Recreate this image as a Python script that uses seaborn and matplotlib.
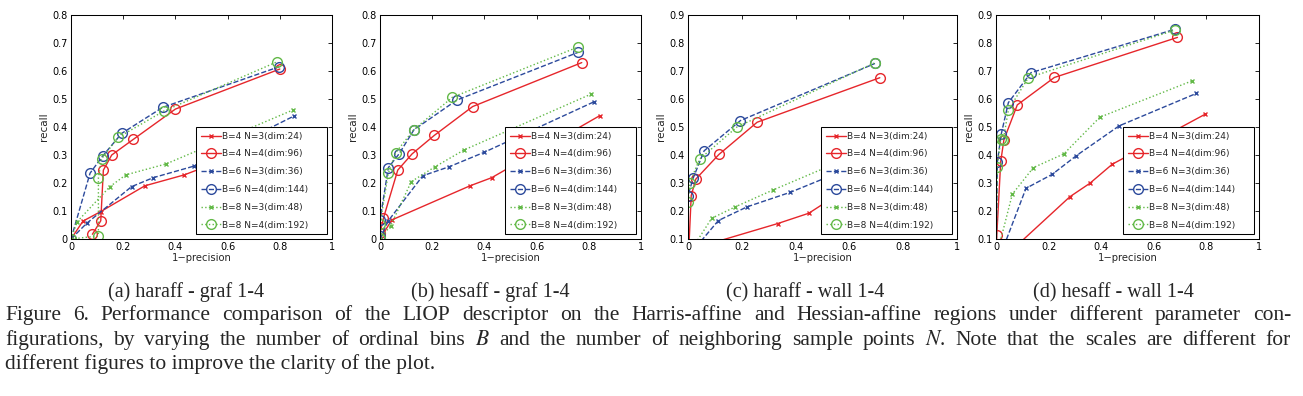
import matplotlib
matplotlib.use("Agg")
import matplotlib.pyplot as plt
import pandas as pd
import seaborn as sns

# Data (1-precision, recall) for each descriptor setting
LABELS = ["B=4 N=3(dim:24)", "B=4 N=4(dim:96)", "B=6 N=3(dim:36)",
          "B=6 N=4(dim:144)", "B=8 N=3(dim:48)", "B=8 N=4(dim:192)"]

# (a) haraff - graf 1-4
a_b4n3_x = [0, 0.046, 0.114, 0.283, 0.434, 0.83]
a_b4n3_y = [0, 0.064, 0.098, 0.19, 0.229, 0.37]
a_b4n4_x = [0.082, 0.114, 0.124, 0.156, 0.239, 0.40, 0.80]
a_b4n4_y = [0.017, 0.065, 0.246, 0.30, 0.356, 0.464, 0.607]
a_b6n3_x = [0, 0.06, 0.232, 0.315, 0.47, 0.856]
a_b6n3_y = [0, 0.056, 0.187, 0.219, 0.26, 0.44]
a_b6n4_x = [0, 0.073, 0.121, 0.194, 0.351, 0.797]
a_b6n4_y = [0, 0.235, 0.296, 0.377, 0.47, 0.615]
a_b8n3_x = [0, 0.024, 0.149, 0.21, 0.364, 0.851]
a_b8n3_y = [0, 0.062, 0.187, 0.229, 0.268, 0.461]
a_b8n4_x = [0, 0.105, 0.105, 0.117, 0.181, 0.356, 0.79]
a_b8n4_y = [0, 0.011, 0.219, 0.286, 0.363, 0.457, 0.633]

# (b) hesaff - graf 1-4
b_b4n3_x = [0, 0.045, 0.345, 0.428, 0.841]
b_b4n3_y = [0, 0.068, 0.19, 0.219, 0.44]
b_b4n4_x = [0, 0.013, 0.068, 0.123, 0.208, 0.355, 0.773]
b_b4n4_y = [0.02, 0.074, 0.246, 0.304, 0.37, 0.473, 0.63]
b_b6n3_x = [0, 0.031, 0.164, 0.265, 0.40, 0.82]
b_b6n3_y = [0, 0.064, 0.226, 0.258, 0.31, 0.49]
b_b6n4_x = [0, 0.0, 0.032, 0.073, 0.13, 0.294, 0.76]
b_b6n4_y = [0.01, 0.068, 0.255, 0.304, 0.39, 0.496, 0.667]
b_b8n3_x = [0, 0.041, 0.12, 0.211, 0.322, 0.81]
b_b8n3_y = [0, 0.048, 0.205, 0.258, 0.318, 0.518]
b_b8n4_x = [0, 0.0, 0.032, 0.06, 0.129, 0.277, 0.757]
b_b8n4_y = [0.005, 0.054, 0.235, 0.308, 0.39, 0.506, 0.685]

# (c) haraff - wall 1-4
c_b4n3_x = [0, 0.08, 0.333, 0.449, 0.72]
c_b4n3_y = [0, 0.083, 0.155, 0.192, 0.36]
c_b4n4_x = [0, 0.012, 0.029, 0.115, 0.257, 0.713]
c_b4n4_y = [0, 0.255, 0.314, 0.402, 0.517, 0.676]
c_b6n3_x = [0, 0.02, 0.113, 0.22, 0.381, 0.72]
c_b6n3_y = [0, 0.06, 0.166, 0.215, 0.267, 0.40]
c_b6n4_x = [0, 0.0, 0.019, 0.06, 0.195, 0.695]
c_b6n4_y = [0, 0.255, 0.317, 0.415, 0.523, 0.727]
c_b8n3_x = [0, 0.005, 0.088, 0.176, 0.316, 0.72]
c_b8n3_y = [0, 0.05, 0.174, 0.215, 0.275, 0.44]
c_b8n4_x = [0, 0.0, 0.006, 0.043, 0.182, 0.696]
c_b8n4_y = [0, 0.232, 0.30, 0.385, 0.50, 0.73]

# (d) hesaff - wall 1-4
d_b4n3_x = [0, 0.06, 0.281, 0.357, 0.442, 0.794]
d_b4n3_y = [0, 0.06, 0.251, 0.299, 0.367, 0.545]
d_b4n4_x = [0, 0.003, 0.018, 0.03, 0.081, 0.222, 0.69]
d_b4n4_y = [0, 0.114, 0.377, 0.454, 0.579, 0.677, 0.82]
d_b6n3_x = [0, 0.02, 0.114, 0.214, 0.306, 0.468, 0.762]
d_b6n3_y = [0, 0.05, 0.281, 0.331, 0.398, 0.504, 0.62]
d_b6n4_x = [0, 0.005, 0.02, 0.047, 0.133, 0.68]
d_b6n4_y = [0, 0.374, 0.475, 0.587, 0.694, 0.849]
d_b8n3_x = [0, 0.005, 0.062, 0.142, 0.258, 0.395, 0.746]
d_b8n3_y = [0, 0.05, 0.26, 0.355, 0.404, 0.535, 0.665]
d_b8n4_x = [0, 0.005, 0.018, 0.028, 0.047, 0.123, 0.68]
d_b8n4_y = [0, 0.358, 0.457, 0.455, 0.561, 0.676, 0.846]

SUBCAPTIONS = ["(a) haraff - graf 1-4", "(b) hesaff - graf 1-4",
               "(c) haraff - wall 1-4", "(d) hesaff - wall 1-4"]
YLIMS = [(0, 0.8), (0, 0.8), (0.1, 0.9), (0.1, 0.9)]
XTICKS = [0, 0.2, 0.4, 0.6, 0.8, 1]

CAPTION_1 = ("Figure 6. Performance comparison of the LIOP descriptor on the Harris-affine "
             "and Hessian-affine regions under different parameter con-")
CAPTION_2 = ("figurations, by varying the number of ordinal bins $B$ and the number of "
             "neighboring sample points $N$. Note that the scales are different for")
CAPTION_3 = "different figures to improve the clarity of the plot."

panels = [
    [(a_b4n3_x, a_b4n3_y), (a_b4n4_x, a_b4n4_y), (a_b6n3_x, a_b6n3_y),
     (a_b6n4_x, a_b6n4_y), (a_b8n3_x, a_b8n3_y), (a_b8n4_x, a_b8n4_y)],
    [(b_b4n3_x, b_b4n3_y), (b_b4n4_x, b_b4n4_y), (b_b6n3_x, b_b6n3_y),
     (b_b6n4_x, b_b6n4_y), (b_b8n3_x, b_b8n3_y), (b_b8n4_x, b_b8n4_y)],
    [(c_b4n3_x, c_b4n3_y), (c_b4n4_x, c_b4n4_y), (c_b6n3_x, c_b6n3_y),
     (c_b6n4_x, c_b6n4_y), (c_b8n3_x, c_b8n3_y), (c_b8n4_x, c_b8n4_y)],
    [(d_b4n3_x, d_b4n3_y), (d_b4n4_x, d_b4n4_y), (d_b6n3_x, d_b6n3_y),
     (d_b6n4_x, d_b6n4_y), (d_b8n3_x, d_b8n3_y), (d_b8n4_x, d_b8n4_y)],
]

# line styles per series (B -> colour/dash, N -> marker)
colors = ["#e6262b", "#e6262b", "#2c4a9c", "#2c4a9c", "#62b947", "#62b947"]
dashes = ["-", "-", "--", "--", ":", ":"]
markers = ["x", "o", "x", "o", "x", "o"]

sns.set_style("white")
plt.rcParams["font.family"] = ["DejaVu Sans"]
plt.rcParams["mathtext.fontset"] = "stix"

W, H = 1303, 396
fig = plt.figure(figsize=(W / 100, H / 100), dpi=100)

# axes boxes in pixels: left, width
boxes = [(71, 261), (380, 261), (688, 269), (996, 263)]
sub_centers = [186, 490, 805, 1113]

for i, (left, width) in enumerate(boxes):
    ax = fig.add_axes([left / W, 1 - 239 / H, width / W, 224 / H])
    for j, (xs, ys) in enumerate(panels[i]):
        df = pd.DataFrame({"x": xs, "y": ys})
        open_marker = markers[j] == "o"
        # trailing blanks give the wide right margin of the MATLAB legend box
        sns.lineplot(data=df, x="x", y="y", ax=ax, sort=False, estimator=None,
                     color=colors[j], linestyle=dashes[j], linewidth=1.0,
                     marker=markers[j], markersize=7 if open_marker else 3.5,
                     markerfacecolor="none" if open_marker else colors[j],
                     markeredgecolor=colors[j], markeredgewidth=1.0,
                     label=LABELS[j] + "     ")
    lo, hi = YLIMS[i]
    yt = [round(lo + 0.1 * k, 1) for k in range(9)]
    ax.set_xlim(0, 1)
    ax.set_ylim(lo, hi)
    ax.set_xticks(XTICKS)
    ax.set_xticklabels(["%g" % v for v in XTICKS])
    ax.set_yticks(yt)
    ax.set_yticklabels(["%g" % v for v in yt])
    ax.tick_params(direction="in", length=3, width=0.6, labelsize=7,
                   top=True, right=True, pad=2.5, colors="black")
    for s in ax.spines.values():
        s.set_color("black")
        s.set_linewidth(0.75)
    ax.set_xlabel("1\u2212precision", fontsize=7.2, labelpad=0.5)
    ax.set_ylabel("recall", fontsize=7.5, labelpad=2)
    leg = ax.legend(loc="lower right", fontsize=6.5, frameon=True, fancybox=False,
                    framealpha=1, handlelength=2.2, handletextpad=0.15,
                    borderpad=0.55, labelspacing=0.97, borderaxespad=0.5)
    leg.get_frame().set_edgecolor("black")
    leg.get_frame().set_linewidth(0.75)
    fig.text(sub_centers[i] / W, 1 - 297 / H, SUBCAPTIONS[i], ha="center",
             va="baseline", family="Liberation Serif", fontsize=14.5)

# caption, lines 1-2 justified word by word
serif = dict(family="Liberation Serif", fontsize=15.5, va="baseline")
renderer = fig.canvas.get_renderer()
for line, base in [(CAPTION_1, 320), (CAPTION_2, 345)]:
    words = line.split(" ")
    texts = [fig.text(0, 1 - base / H, w, **serif) for w in words]
    widths = [t.get_window_extent(renderer).width for t in texts]
    gap = (1291 - 5 - sum(widths)) / (len(words) - 1)
    x = 5
    for t, w in zip(texts, widths):
        t.set_x(x / W)
        x += w + gap
fig.text(5 / W, 1 - 369 / H, CAPTION_3, **serif)

fig.savefig("out.png", dpi=100, facecolor="white")
